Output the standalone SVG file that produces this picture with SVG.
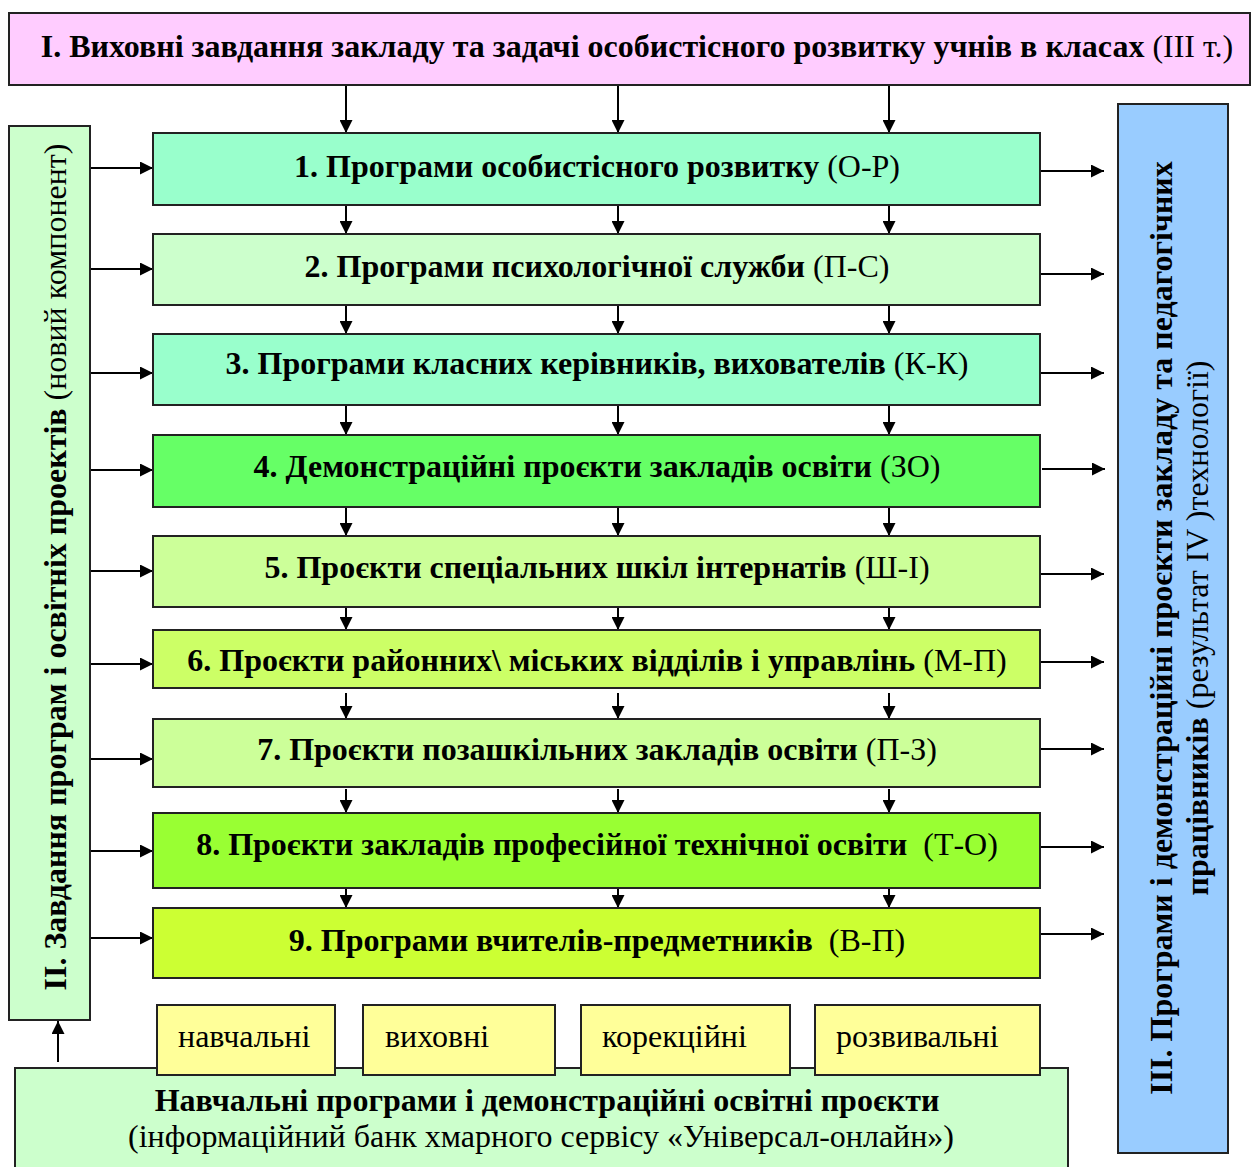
<svg xmlns="http://www.w3.org/2000/svg" width="1254" height="1167" viewBox="0 0 1254 1167">
<style>
.box{stroke:#222;stroke-width:2}
.t{font-family:"Liberation Serif","Times New Roman",serif;font-size:32px;fill:#000}
.b{font-weight:bold}
.c{text-anchor:middle}
.ln{stroke:#000;stroke-width:2;fill:none}
</style>
<defs>
<marker id="ah" viewBox="0 0 10 10" refX="10" refY="5" markerWidth="15" markerHeight="13" markerUnits="userSpaceOnUse" orient="auto">
<path d="M0,0 L10,5 L0,10 z" fill="#000"/>
</marker>
</defs>
<rect width="1254" height="1167" fill="#fff"/>

<g id="connectors">
<g class="ln" marker-end="url(#ah)">
<line x1="346" y1="86" x2="346" y2="133"/>
<line x1="618" y1="86" x2="618" y2="133"/>
<line x1="889" y1="86" x2="889" y2="133"/>
<line x1="346" y1="206" x2="346" y2="234"/>
<line x1="618" y1="206" x2="618" y2="234"/>
<line x1="889" y1="206" x2="889" y2="234"/>
<line x1="346" y1="306" x2="346" y2="334"/>
<line x1="618" y1="306" x2="618" y2="334"/>
<line x1="889" y1="306" x2="889" y2="334"/>
<line x1="346" y1="406" x2="346" y2="435"/>
<line x1="618" y1="406" x2="618" y2="435"/>
<line x1="889" y1="406" x2="889" y2="435"/>
<line x1="346" y1="508" x2="346" y2="536"/>
<line x1="618" y1="508" x2="618" y2="536"/>
<line x1="889" y1="508" x2="889" y2="536"/>
<line x1="346" y1="606" x2="346" y2="630"/>
<line x1="618" y1="606" x2="618" y2="630"/>
<line x1="889" y1="606" x2="889" y2="630"/>
<line x1="346" y1="693" x2="346" y2="719"/>
<line x1="618" y1="693" x2="618" y2="719"/>
<line x1="889" y1="693" x2="889" y2="719"/>
<line x1="346" y1="789" x2="346" y2="813"/>
<line x1="618" y1="789" x2="618" y2="813"/>
<line x1="889" y1="789" x2="889" y2="813"/>
<line x1="346" y1="886" x2="346" y2="908"/>
<line x1="618" y1="886" x2="618" y2="908"/>
<line x1="889" y1="886" x2="889" y2="908"/>
<line x1="90" y1="168" x2="153" y2="168"/>
<line x1="90" y1="269" x2="153" y2="269"/>
<line x1="90" y1="373" x2="153" y2="373"/>
<line x1="90" y1="470" x2="153" y2="470"/>
<line x1="90" y1="571" x2="153" y2="571"/>
<line x1="90" y1="664" x2="153" y2="664"/>
<line x1="90" y1="759" x2="153" y2="759"/>
<line x1="88" y1="851" x2="153" y2="851"/>
<line x1="90" y1="938" x2="153" y2="938"/>
<line x1="1040" y1="171" x2="1104" y2="171"/>
<line x1="1040" y1="274" x2="1104" y2="274"/>
<line x1="1040" y1="373" x2="1104" y2="373"/>
<line x1="1042" y1="469" x2="1105" y2="469"/>
<line x1="1040" y1="574" x2="1104" y2="574"/>
<line x1="1040" y1="662" x2="1104" y2="662"/>
<line x1="1040" y1="749" x2="1104" y2="749"/>
<line x1="1040" y1="847" x2="1104" y2="847"/>
<line x1="1040" y1="934" x2="1104" y2="934"/>
<line x1="58" y1="1062" x2="58" y2="1021"/>
</g>
</g>

<g id="top">
<rect class="box" x="9" y="13" width="1241" height="72" fill="#FFCCFF"/>
<text class="t c" x="637" y="57"><tspan class="b">І. Виховні завдання закладу та задачі особистісного розвитку учнів в класах</tspan> (ІІІ т.)</text>
</g>

<g id="left">
<rect class="box" x="9" y="126" width="81" height="894" fill="#CCFFCC"/>
<text class="t c" transform="translate(66,567) rotate(-90)"><tspan class="b">ІІ. Завдання програм і освітніх проектів</tspan> (новий компонент)</text>
</g>

<g id="right">
<rect class="box" x="1118" y="104" width="110" height="1049" fill="#99CCFF"/>
<text class="t c b" transform="translate(1172,628) rotate(-90)">ІІІ. Програми і демонстраційні проєкти закладу та педагогічних</text>
<text class="t c" transform="translate(1208,628) rotate(-90)"><tspan class="b">працівників</tspan> (результат ІV )технології)</text>
</g>

<g id="n1"><rect class="box" x="153" y="133" width="887" height="72" fill="#99FFCC"/>
<text class="t c" x="597" y="177"><tspan class="b">1. Програми особистісного розвитку</tspan> (О-Р)</text></g>
<g id="n2"><rect class="box" x="153" y="234" width="887" height="71" fill="#CCFFCC"/>
<text class="t c" x="597" y="277"><tspan class="b">2. Програми психологічної служби</tspan> (П-С)</text></g>
<g id="n3"><rect class="box" x="153" y="334" width="887" height="71" fill="#99FFCC"/>
<text class="t c" x="597" y="374"><tspan class="b">3. Програми класних керівників, вихователів</tspan> (К-К)</text></g>
<g id="n4"><rect class="box" x="153" y="435" width="887" height="72" fill="#66FF66"/>
<text class="t c" x="597" y="477"><tspan class="b">4. Демонстраційні проєкти закладів освіти</tspan> (ЗО)</text></g>
<g id="n5"><rect class="box" x="153" y="536" width="887" height="71" fill="#CCFF99"/>
<text class="t c" x="597" y="578"><tspan class="b">5. Проєкти спеціальних шкіл інтернатів</tspan> (Ш-І)</text></g>
<g id="n6"><rect class="box" x="153" y="630" width="887" height="58" fill="#CCFF66"/>
<text class="t c" x="597" y="671"><tspan class="b">6. Проєкти районних\ міських відділів і управлінь</tspan> (М-П)</text></g>
<g id="n7"><rect class="box" x="153" y="719" width="887" height="68" fill="#CCFF99"/>
<text class="t c" x="597" y="760"><tspan class="b">7. Проєкти позашкільних закладів освіти</tspan> (П-З)</text></g>
<g id="n8"><rect class="box" x="153" y="813" width="887" height="75" fill="#99FF33"/>
<text class="t c" x="597" y="855"><tspan class="b">8. Проєкти закладів професійної технічної освіти&#160;</tspan> (Т-О)</text></g>
<g id="n9"><rect class="box" x="153" y="908" width="887" height="70" fill="#CCFF33"/>
<text class="t c" x="597" y="951"><tspan class="b">9. Програми вчителів-предметників&#160;</tspan> (В-П)</text></g>

<g id="bottom">
<rect class="box" x="15" y="1068" width="1053" height="110" fill="#CCFFCC"/>
<text class="t c b" x="547" y="1111">Навчальні програми і демонстраційні освітні проєкти</text>
<text class="t c" x="541" y="1147">(інформаційний банк хмарного сервісу «Універсал-онлайн»)</text>
</g>
<g id="tab1"><rect class="box" x="157" y="1005" width="178" height="70" fill="#FFFF99"/>
<text class="t" x="178" y="1047">навчальні</text></g>
<g id="tab2"><rect class="box" x="363" y="1005" width="192" height="70" fill="#FFFF99"/>
<text class="t" x="385" y="1047">виховні</text></g>
<g id="tab3"><rect class="box" x="581" y="1005" width="209" height="70" fill="#FFFF99"/>
<text class="t" x="602" y="1047">корекційні</text></g>
<g id="tab4"><rect class="box" x="815" y="1005" width="225" height="70" fill="#FFFF99"/>
<text class="t" x="836" y="1047">розвивальні</text></g>
</svg>
